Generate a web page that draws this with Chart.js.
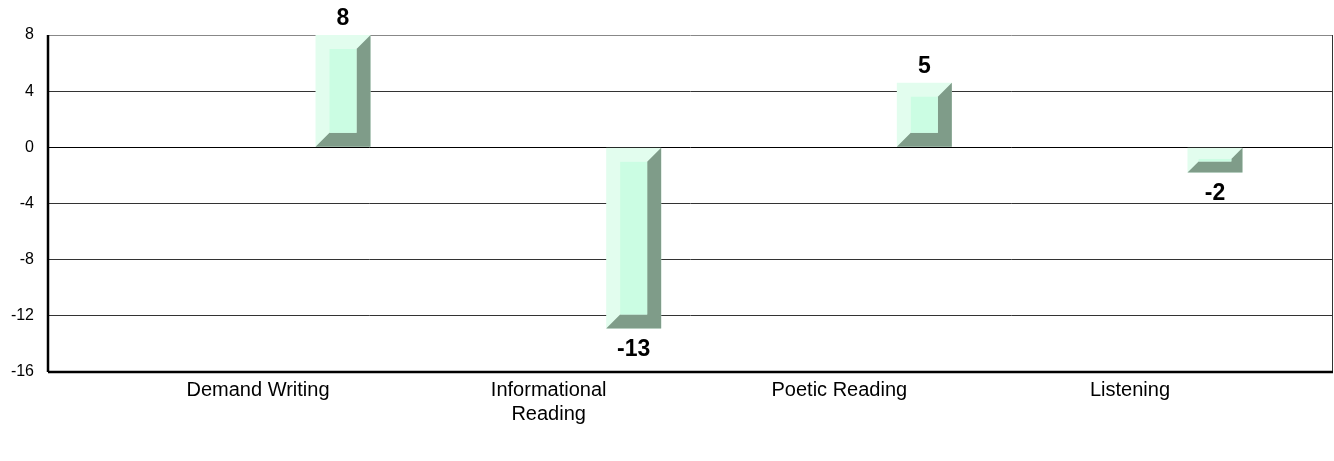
<!DOCTYPE html>
<html>
<head>
<meta charset="utf-8">
<script src="https://cdn.jsdelivr.net/npm/chart.js@4.4.0/dist/chart.umd.min.js"></script>
<style>
  html, body { margin: 0; padding: 0; background: #fff; }
  #wrap { width: 1334px; height: 461px; }
</style>
</head>
<body>
<div id="wrap"><canvas id="gainChart"></canvas></div>
<script>
// dados
const categories = ['Demand Writing', 'Informational Reading', 'Poetic Reading', 'Listening'];
const values = [8, -12.9, 4.6, -1.8];
const yTicks = [8, 4, 0, -4, -8, -12, -16];

const colors = {
    face: '#e2fdee',
    inner: '#cbfde3',
    dark: '#7f9c89',
    grid: '#333',
    text: '#000'
};

// barras chanfradas (estilo Excel)
const bevelBars = {
    id: 'bevelBars',
    afterDatasetsDraw(chart) {
        const ctx = chart.ctx;
        chart.getDatasetMeta(0).data.forEach((bar, i) => {
            const p = bar.getProps(['x', 'y', 'base', 'width'], true);
            const l = p.x - p.width / 2, r = p.x + p.width / 2;
            const t = Math.min(p.y, p.base), b = Math.max(p.y, p.base);
            const k = Math.min(14, (b - t) * 0.45);
            ctx.save();
            ctx.fillStyle = colors.face;
            ctx.fillRect(l, t, r - l, b - t);
            ctx.fillStyle = colors.dark;
            ctx.beginPath();
            ctx.moveTo(r, t); ctx.lineTo(r, b); ctx.lineTo(l, b);
            ctx.lineTo(l + k, b - k); ctx.lineTo(r - k, b - k); ctx.lineTo(r - k, t + k);
            ctx.closePath(); ctx.fill();
            ctx.fillStyle = colors.inner;
            ctx.fillRect(l + k, t + k, r - l - 2 * k, b - t - 2 * k);

            // rótulo do valor
            const v = values[i];
            ctx.fillStyle = colors.text;
            ctx.font = 'bold 23px "Liberation Sans", Arial, sans-serif';
            ctx.textAlign = 'center';
            if (v >= 0) {
                ctx.textBaseline = 'bottom';
                ctx.fillText(Math.round(v), p.x, t - 5);
            } else {
                ctx.textBaseline = 'top';
                ctx.fillText(Math.round(v), p.x, b + 10);
            }
            ctx.restore();
        });
        // bordas da área do gráfico
        const a = chart.chartArea;
        ctx.save();
        ctx.strokeStyle = '#333';
        ctx.lineWidth = 1;
        ctx.beginPath();
        ctx.moveTo(a.right - 0.5, a.top); ctx.lineTo(a.right - 0.5, a.bottom);
        ctx.stroke();
        ctx.strokeStyle = '#000';
        ctx.lineWidth = 2.5;
        ctx.beginPath();
        ctx.moveTo(a.left, a.bottom); ctx.lineTo(a.right, a.bottom);
        ctx.moveTo(a.left, a.top); ctx.lineTo(a.left, a.bottom);
        ctx.stroke();
        ctx.restore();
    }
};

const ctx = document.getElementById('gainChart').getContext('2d');
const gainChart = new Chart(ctx, {
    type: 'bar',
    data: {
        datasets: [{
            data: values.map((v, i) => ({ x: i, y: v })),
            backgroundColor: 'rgba(0,0,0,0)',
            borderWidth: 0,
            barThickness: 55
        }]
    },
    options: {
        responsive: true,
        maintainAspectRatio: false,
        animation: false,
        events: [],
        layout: { padding: { top: 35, right: 1, left: 0, bottom: 0 } },
        plugins: {
            legend: { display: false },
            tooltip: { enabled: false }
        },
        scales: {
            x: {
                type: 'linear',
                offset: false,
                min: -1.015,
                max: 3.406,
                grid: { display: false, drawTicks: false, offset: false },
                border: { display: false },
                afterBuildTicks: (scale) => {
                    scale.ticks = categories.map((c, i) => ({ value: i }));
                },
                afterFit: (scale) => { scale.height = 89; },
                ticks: {
                    autoSkip: false,
                    maxRotation: 0,
                    padding: 6,
                    labelOffset: -85,
                    color: colors.text,
                    font: { size: 20, family: '"Liberation Sans", Arial, sans-serif' },
                    callback: (v) => {
                        const c = categories[v];
                        return c.length > 15 ? c.split(' ') : c;
                    }
                }
            },
            y: {
                min: -16,
                max: 8,
                afterBuildTicks: (scale) => {
                    scale.ticks = yTicks.map(v => ({ value: v }));
                },
                afterFit: (scale) => { scale.width = 48; },
                grid: {
                    drawTicks: false,
                    color: (c) => c.tick.value === 8 ? '#888' : (c.tick.value === 0 ? '#000' : colors.grid),
                    lineWidth: 1
                },
                border: { display: false },
                ticks: {
                    padding: 14,
                    color: colors.text,
                    font: { size: 16, family: '"Liberation Sans", Arial, sans-serif' }
                }
            }
        }
    },
    plugins: [bevelBars]
});
</script>
</body>
</html>
